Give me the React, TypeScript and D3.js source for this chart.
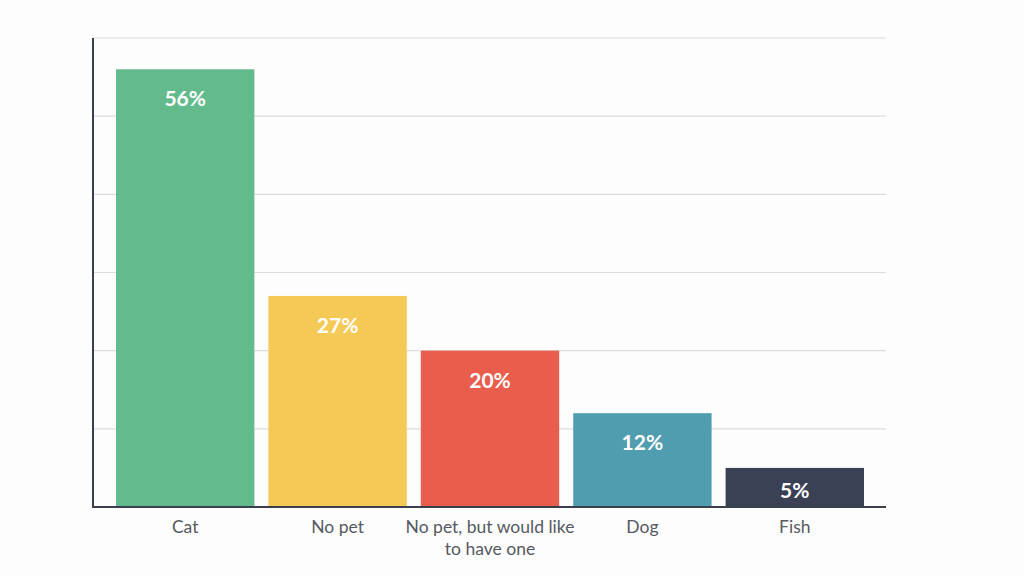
import React from 'react';
import * as d3 from 'd3';

const categories = ['Cat', 'No pet', 'No pet, but would like to have one', 'Dog', 'Fish'];
const labelLines = [['Cat'], ['No pet'], ['No pet, but would like', 'to have one'], ['Dog'], ['Fish']];
const values = [56, 27, 20, 12, 5];
const colors = ['#63bb8d', '#f5c955', '#e85d4b', '#509db0', '#3a4154'];
const gridTicks = [0, 10, 20, 30, 40, 50, 60];

const width = 1024;
const height = 576;
const left = 93;
const right = 886;
const top = 38;
const bottom = 507;

const App = () => {
  const x = d3
    .scaleBand()
    .domain(categories)
    .range([109, 871])
    .paddingInner(0.092)
    .paddingOuter(0.046);

  const y = d3.scaleLinear().domain([0, 60]).range([bottom, top]);

  return (
    <svg
      width={width}
      height={height}
      style={{ position: 'absolute', left: 0, top: 0, background: '#fdfdfd' }}
      fontFamily="Lato, 'Open Sans', sans-serif"
    >
      {gridTicks.map(t => (
        <line key={t} x1={left} x2={right} y1={y(t)} y2={y(t)} stroke="#dcdcdc" strokeWidth={1.2} />
      ))}
      {categories.map((c, i) => {
        const bx = x(c) ?? 0;
        const by = y(values[i]);
        const h = bottom - by;
        const cx = bx + x.bandwidth() / 2;
        return (
          <g key={c}>
            <rect x={bx} y={by} width={x.bandwidth()} height={h} fill={colors[i]} />
            <text
              x={cx}
              y={by + Math.min(37, h / 2 + 11)}
              textAnchor="middle"
              fill="#fff"
              fontWeight="bold"
              fontSize={21}
            >
              {values[i]}%
            </text>
            {labelLines[i].map((line, j) => (
              <text key={j} x={cx} y={533 + j * 22} textAnchor="middle" fill="#555a60" fontSize={17.5}>
                {line}
              </text>
            ))}
          </g>
        );
      })}
      <line x1={left} x2={right} y1={bottom} y2={bottom} stroke="#3a3f4c" strokeWidth={2} />
      <line x1={left} x2={left} y1={top} y2={bottom + 1} stroke="#3a3f4c" strokeWidth={2} />
    </svg>
  );
};

export default App;
